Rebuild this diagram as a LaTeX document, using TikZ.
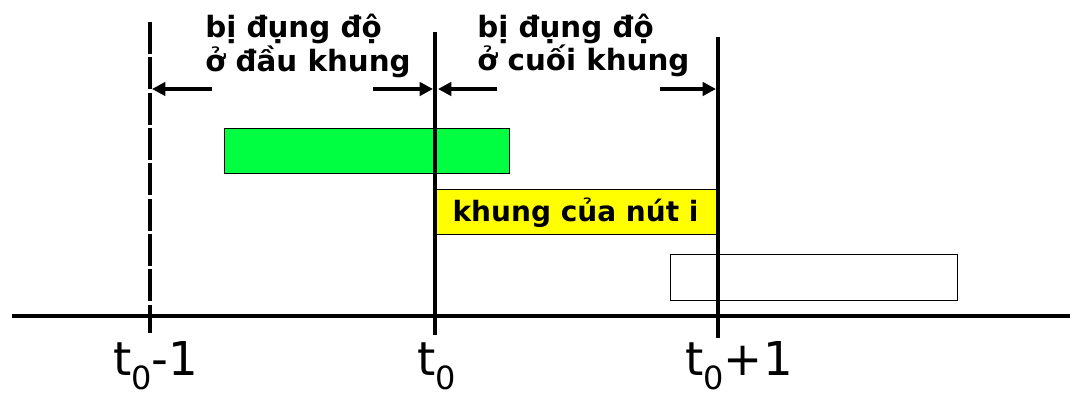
\documentclass[tikz,border=0pt]{standalone}
\usepackage{fontspec}
\setmainfont{DejaVu Sans}
\usetikzlibrary{arrows.meta,positioning}

\definecolor{xanhla}{RGB}{0,255,64}
\definecolor{vang}{RGB}{255,255,0}

% chi so duoi cua t
\newcommand\chiso[1]{\raisebox{-11pt}{\fontsize{24pt}{24pt}\selectfont #1}}

\tikzset{
  truc/.style={line width=2.3pt},
  vach/.style={line width=2.3pt},
  hop/.style={draw=black,line width=1.1pt,inner sep=0pt,anchor=north west},
  muiten/.style={line width=2.6pt,-{Triangle[length=10pt,width=10pt]}},
  nhan/.style={inner sep=0pt,align=left,font=\fontsize{22pt}{23.5pt}\bfseries\selectfont},
  nhant/.style={inner sep=0pt,anchor=base west,font=\fontsize{35pt}{35pt}\selectfont}
}

\begin{document}
\begin{tikzpicture}[x=0.75pt,y=-0.75pt]
    \useasboundingbox (0,0) rectangle (1070,399);

    % Cac khung
    \node[hop,fill=xanhla,minimum width=213.75pt,minimum height=33.75pt] (hopxanh) at (224,128) {};
    \node[hop,fill=vang,minimum width=212.25pt,minimum height=33.75pt,
          font=\fontsize{21pt}{21pt}\bfseries\selectfont] (hopvang) at (436,189) {\kern-4pt khung của nút i};
    \node[hop,fill=white,minimum width=215.25pt,minimum height=34.5pt] (hoptrang) at (670,254) {};

    % Truc thoi gian
    \coordinate (O) at (12,316);
    \coordinate (E) at (1070,316);
    \draw[truc] (O) -- (E);

    % Cac moc t0-1, t0, t0+1
    \coordinate (m1t) at (150,22);
    \coordinate (m1d) at (150,333);
    \coordinate (m2t) at (435,32);
    \coordinate (m2d) at (435,335);
    \coordinate (m3t) at (718,37);
    \coordinate (m3d) at (718,338);
    \draw[vach,line width=3pt,dash pattern=on 24pt off 2.5pt] (m1t) -- (m1d);
    \draw[vach] (m2t) -- (m2d);
    \draw[vach] (m3t) -- (m3d);

    \node[nhant] (t1) at (113,375) {t\chiso{0}-1};
    \node[nhant] (t2) at (417,375) {t\chiso{0}};
    \node[nhant] (t3) at (685,375) {t\chiso{0}+1};

    % Vung bi dung do
    \node[nhan,anchor=north west] (daukhung) at (205,14) {bị đụng độ\\ở đầu khung};
    \node[nhan,anchor=north west] (cuoikhung) at (477,14) {bị đụng độ\\ở cuối khung};

    % Mui ten
    \coordinate (a1) at (212,89);
    \coordinate (b1) at (152,89);
    \coordinate (a2) at (373,89);
    \coordinate (b2) at (433,89);
    \coordinate (a3) at (497,89);
    \coordinate (b3) at (438,89);
    \coordinate (a4) at (660,89);
    \coordinate (b4) at (716,89);
    \draw[muiten] (a1) -- (b1);
    \draw[muiten] (a2) -- (b2);
    \draw[muiten] (a3) -- (b3);
    \draw[muiten] (a4) -- (b4);
  \end{tikzpicture}
\end{document}
